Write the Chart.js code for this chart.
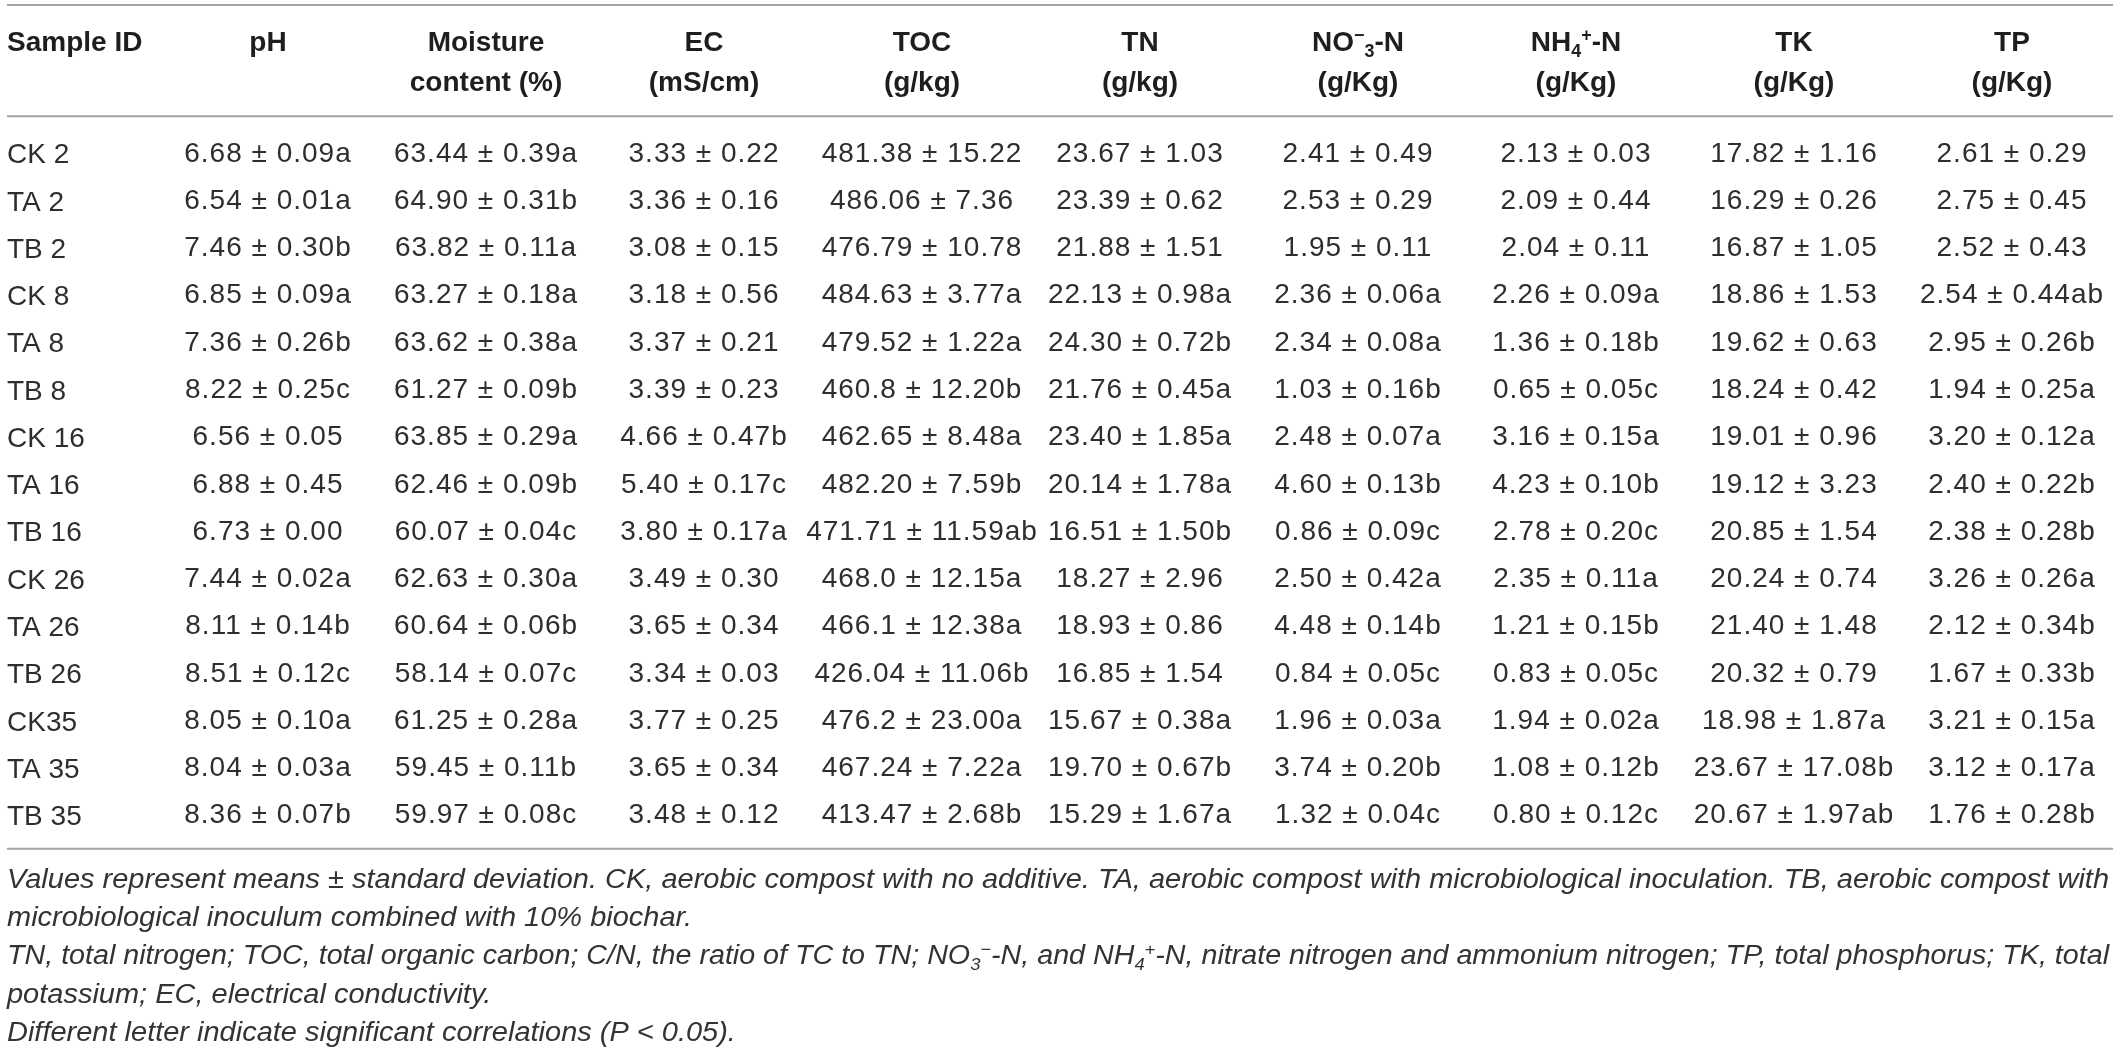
<!DOCTYPE html>
<html>
<head>
<meta charset="utf-8">
<script src="https://cdn.jsdelivr.net/npm/chart.js@4.4.1/dist/chart.umd.min.js"></script>
<style>
html,body{margin:0;padding:0;background:#fff;}
#wrap{width:2119px;height:1048px;position:relative;}
</style>
</head>
<body>
<div id="wrap"><canvas id="c"></canvas></div>
<script>
// ---------- data ----------
const sampleIds = ['CK 2','TA 2','TB 2','CK 8','TA 8','TB 8','CK 16','TA 16','TB 16','CK 26','TA 26','TB 26','CK35','TA 35','TB 35'];

const columnKeys = ['pH','Moisture','EC','TOC','TN','NO3-N','NH4-N','TK','TP'];
const idHeader = 'Sample ID';
const headerLine1 = ['pH','Moisture','EC','TOC','TN','NO^{\u2212}_{3}-N','NH_{4}^{+}-N','TK','TP'];
const headerLine2 = ['','content (%)','(mS/cm)','(g/kg)','(g/kg)','(g/Kg)','(g/Kg)','(g/Kg)','(g/Kg)'];

const phValues = ['6.68 ± 0.09a','6.54 ± 0.01a','7.46 ± 0.30b','6.85 ± 0.09a','7.36 ± 0.26b','8.22 ± 0.25c','6.56 ± 0.05','6.88 ± 0.45','6.73 ± 0.00','7.44 ± 0.02a','8.11 ± 0.14b','8.51 ± 0.12c','8.05 ± 0.10a','8.04 ± 0.03a','8.36 ± 0.07b'];
const moistureValues = ['63.44 ± 0.39a','64.90 ± 0.31b','63.82 ± 0.11a','63.27 ± 0.18a','63.62 ± 0.38a','61.27 ± 0.09b','63.85 ± 0.29a','62.46 ± 0.09b','60.07 ± 0.04c','62.63 ± 0.30a','60.64 ± 0.06b','58.14 ± 0.07c','61.25 ± 0.28a','59.45 ± 0.11b','59.97 ± 0.08c'];
const ecValues = ['3.33 ± 0.22','3.36 ± 0.16','3.08 ± 0.15','3.18 ± 0.56','3.37 ± 0.21','3.39 ± 0.23','4.66 ± 0.47b','5.40 ± 0.17c','3.80 ± 0.17a','3.49 ± 0.30','3.65 ± 0.34','3.34 ± 0.03','3.77 ± 0.25','3.65 ± 0.34','3.48 ± 0.12'];
const tocValues = ['481.38 ± 15.22','486.06 ± 7.36','476.79 ± 10.78','484.63 ± 3.77a','479.52 ± 1.22a','460.8 ± 12.20b','462.65 ± 8.48a','482.20 ± 7.59b','471.71 ± 11.59ab','468.0 ± 12.15a','466.1 ± 12.38a','426.04 ± 11.06b','476.2 ± 23.00a','467.24 ± 7.22a','413.47 ± 2.68b'];
const tnValues = ['23.67 ± 1.03','23.39 ± 0.62','21.88 ± 1.51','22.13 ± 0.98a','24.30 ± 0.72b','21.76 ± 0.45a','23.40 ± 1.85a','20.14 ± 1.78a','16.51 ± 1.50b','18.27 ± 2.96','18.93 ± 0.86','16.85 ± 1.54','15.67 ± 0.38a','19.70 ± 0.67b','15.29 ± 1.67a'];
const no3Values = ['2.41 ± 0.49','2.53 ± 0.29','1.95 ± 0.11','2.36 ± 0.06a','2.34 ± 0.08a','1.03 ± 0.16b','2.48 ± 0.07a','4.60 ± 0.13b','0.86 ± 0.09c','2.50 ± 0.42a','4.48 ± 0.14b','0.84 ± 0.05c','1.96 ± 0.03a','3.74 ± 0.20b','1.32 ± 0.04c'];
const nh4Values = ['2.13 ± 0.03','2.09 ± 0.44','2.04 ± 0.11','2.26 ± 0.09a','1.36 ± 0.18b','0.65 ± 0.05c','3.16 ± 0.15a','4.23 ± 0.10b','2.78 ± 0.20c','2.35 ± 0.11a','1.21 ± 0.15b','0.83 ± 0.05c','1.94 ± 0.02a','1.08 ± 0.12b','0.80 ± 0.12c'];
const tkValues = ['17.82 ± 1.16','16.29 ± 0.26','16.87 ± 1.05','18.86 ± 1.53','19.62 ± 0.63','18.24 ± 0.42','19.01 ± 0.96','19.12 ± 3.23','20.85 ± 1.54','20.24 ± 0.74','21.40 ± 1.48','20.32 ± 0.79','18.98 ± 1.87a','23.67 ± 17.08b','20.67 ± 1.97ab'];
const tpValues = ['2.61 ± 0.29','2.75 ± 0.45','2.52 ± 0.43','2.54 ± 0.44ab','2.95 ± 0.26b','1.94 ± 0.25a','3.20 ± 0.12a','2.40 ± 0.22b','2.38 ± 0.28b','3.26 ± 0.26a','2.12 ± 0.34b','1.67 ± 0.33b','3.21 ± 0.15a','3.12 ± 0.17a','1.76 ± 0.28b'];

const footnoteLines = [
  'Values represent means ± standard deviation. CK, aerobic compost with no additive. TA, aerobic compost with microbiological inoculation. TB, aerobic compost with',
  'microbiological inoculum combined with 10% biochar.',
  'TN, total nitrogen; TOC, total organic carbon; C/N, the ratio of TC to TN; NO_{3}^{\u2212}-N, and NH_{4}^{+}-N, nitrate nitrogen and ammonium nitrogen; TP, total phosphorus; TK, total',
  'potassium; EC, electrical conductivity.',
  'Different letter indicate significant correlations (P < 0.05).'
];

// ---------- style ----------
const FAMILY = '"Liberation Sans", Arial, Helvetica, sans-serif';
const BODY_SIZE = 28, HEAD_SIZE = 28, NOTE_SIZE = 27;
const BODY_COLOR = '#2e2e2e', HEAD_COLOR = '#1e1e1e', NOTE_COLOR = '#333333', RULE_COLOR = '#a3a3a3';
const PAD = {left: 7, right: 107, top: 128, bottom: 211};
const ID_COL_WIDTH = 261;

// ---------- helpers ----------
function parseRich(s){
  const out = []; const re = /(\^\{[^}]*\}|_\{[^}]*\})/g; let last = 0, m;
  while ((m = re.exec(s))) {
    if (m.index > last) out.push({t: s.slice(last, m.index), k: 0});
    out.push({t: m[0].slice(2, -1), k: m[0][0] === '^' ? 1 : -1});
    last = re.lastIndex;
  }
  if (last < s.length) out.push({t: s.slice(last), k: 0});
  return out;
}
function setFont(ctx, style, weight, size, ls){
  ctx.font = style + ' ' + weight + ' ' + size + 'px ' + FAMILY;
  if ('letterSpacing' in ctx) ctx.letterSpacing = ls + 'px';
}
function richWidth(ctx, segs, style, weight, size, ls){
  let w = 0;
  for (const g of segs) { setFont(ctx, style, weight, g.k ? size * 0.64 : size, g.k ? 0 : ls); w += ctx.measureText(g.t).width; }
  return w;
}
function drawRich(ctx, segs, x, y, align, style, weight, size, ls, color){
  const w = richWidth(ctx, segs, style, weight, size, ls);
  let cx = align === 'center' ? x - w / 2 : (align === 'right' ? x - w : x);
  ctx.textAlign = 'left'; ctx.textBaseline = 'alphabetic'; ctx.fillStyle = color;
  for (const g of segs) {
    setFont(ctx, style, weight, g.k ? size * 0.64 : size, g.k ? 0 : ls);
    const dy = g.k === 1 ? -size * 0.36 : (g.k === -1 ? size * 0.2 : 0);
    ctx.fillText(g.t, cx, y + dy);
    cx += ctx.measureText(g.t).width;
  }
}

const valueColumns = [phValues, moistureValues, ecValues, tocValues, tnValues, no3Values, nh4Values, tkValues, tpValues];

const datasets = valueColumns.map((vals, ci) => ({
  label: columnKeys[ci],
  data: vals.map((v, ri) => ({x: columnKeys[ci], y: sampleIds[ri]})),
  cellText: vals,
  pointRadius: 0,
  pointHoverRadius: 0,
  showLine: false
}));

const tablePlugin = {
  id: 'tableText',
  afterDatasetsDraw(chart){
    const {ctx, chartArea: a, scales: {y}} = chart;
    const step = y.getPixelForValue(1) - y.getPixelForValue(0);
    const left = y.left, right = chart.width - 6;
    ctx.save();
    // rules
    const headRule = a.top - step * 0.25;
    const bottomRule = a.bottom + step * 0.25;
    ctx.strokeStyle = RULE_COLOR; ctx.lineWidth = 2;
    [5, headRule, bottomRule].forEach(yy => {
      ctx.beginPath(); ctx.moveTo(left, yy); ctx.lineTo(right, yy); ctx.stroke();
    });
    // header
    drawRich(ctx, [{t: idHeader, k: 0}], left, headRule - 65, 'left', 'normal', 'bold', HEAD_SIZE, 0, HEAD_COLOR);
    const capHalf = BODY_SIZE * 0.716 / 2;
    chart.data.datasets.forEach((ds, ci) => {
      const meta = chart.getDatasetMeta(ci);
      const hx = meta.data[0].x;
      drawRich(ctx, parseRich(headerLine1[ci]), hx, headRule - 65, 'center', 'normal', 'bold', HEAD_SIZE, 0, HEAD_COLOR);
      if (headerLine2[ci]) drawRich(ctx, parseRich(headerLine2[ci]), hx, headRule - 25, 'center', 'normal', 'bold', HEAD_SIZE, 0, HEAD_COLOR);
      meta.data.forEach((el, ri) => {
        drawRich(ctx, [{t: ds.cellText[ri], k: 0}], el.x, el.y + capHalf, 'center', 'normal', 'normal', BODY_SIZE, 1, BODY_COLOR);
      });
    });
    // footnotes
    const full = right - left - 4;
    const segs = footnoteLines.map(parseRich);
    const w0 = richWidth(ctx, segs[0], 'italic', 'normal', NOTE_SIZE, 0);
    const w2 = richWidth(ctx, segs[2], 'italic', 'normal', NOTE_SIZE, 0);
    const s0 = full / w0, s2 = full / w2;
    segs.forEach((sg, i) => {
      const sx = i === 2 ? s2 : s0;
      ctx.save();
      ctx.translate(left, bottomRule + 39 + i * 38.3);
      ctx.scale(sx, 1);
      drawRich(ctx, sg, 0, 0, 'left', 'italic', 'normal', NOTE_SIZE, 0, NOTE_COLOR);
      ctx.restore();
    });
    ctx.restore();
  }
};

new Chart(document.getElementById('c'), {
  type: 'scatter',
  data: {datasets},
  options: {
    animation: false,
    responsive: true,
    maintainAspectRatio: false,
    events: [],
    layout: {padding: PAD},
    plugins: {legend: {display: false}, tooltip: {enabled: false}},
    scales: {
      x: {type: 'category', labels: columnKeys, offset: false, display: false},
      y: {
        type: 'category', labels: sampleIds, offset: true, position: 'left',
        grid: {display: false, drawTicks: false},
        border: {display: false},
        ticks: {crossAlign: 'far', padding: 0, autoSkip: false, labelOffset: 4, color: BODY_COLOR,
                font: {family: FAMILY, size: BODY_SIZE}},
        afterFit(scale){ scale.width = ID_COL_WIDTH; }
      }
    }
  },
  plugins: [tablePlugin]
});
</script>
</body>
</html>
